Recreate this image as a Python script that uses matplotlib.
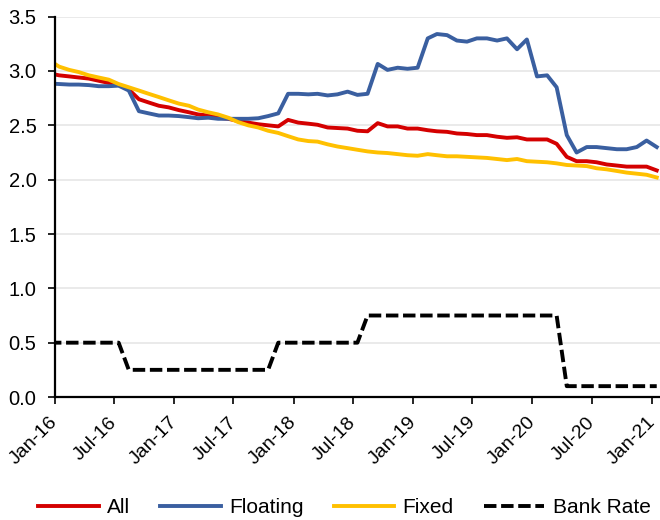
import matplotlib
matplotlib.use("Agg")
import matplotlib.pyplot as plt
import matplotlib.dates as mdates
import matplotlib.transforms as mtransforms
import pandas as pd

plt.rcParams["font.family"] = ["Liberation Sans", "DejaVu Sans"]

# Monthly observations, Dec-15 to Jan-21, plotted mid-month
MONTHS = pd.date_range("2015-12-01", periods=62, freq="MS") + pd.Timedelta(days=14)

ALL_RATE = [
    2.98, 2.96, 2.95, 2.94, 2.93, 2.91, 2.89, 2.87, 2.83, 2.74,
    2.71, 2.68, 2.665, 2.64, 2.62, 2.60, 2.59, 2.57, 2.56, 2.54,
    2.525, 2.51, 2.50, 2.49, 2.55, 2.525, 2.515, 2.505, 2.48, 2.475,
    2.47, 2.45, 2.445, 2.52, 2.49, 2.49, 2.47, 2.47, 2.455, 2.445,
    2.44, 2.425, 2.42, 2.41, 2.41, 2.395, 2.385, 2.39, 2.37, 2.37,
    2.37, 2.33, 2.21, 2.17, 2.17, 2.16, 2.14, 2.13, 2.12, 2.12,
    2.12, 2.085,
]
FLOATING_RATE = [
    2.885, 2.88, 2.875, 2.875, 2.87, 2.86, 2.86, 2.865, 2.82, 2.63,
    2.61, 2.59, 2.59, 2.585, 2.575, 2.565, 2.57, 2.56, 2.56, 2.56,
    2.56, 2.565, 2.585, 2.61, 2.79, 2.79, 2.785, 2.79, 2.775, 2.785,
    2.81, 2.78, 2.79, 3.065, 3.01, 3.03, 3.02, 3.03, 3.30, 3.34,
    3.33, 3.28, 3.27, 3.30, 3.30, 3.28, 3.30, 3.20, 3.29, 2.95,
    2.96, 2.85, 2.41, 2.25, 2.30, 2.30, 2.29, 2.28, 2.28, 2.30,
    2.36, 2.30,
]
FIXED_RATE = [
    3.10, 3.04, 3.01, 2.99, 2.96, 2.94, 2.92, 2.88, 2.85, 2.82,
    2.79, 2.76, 2.73, 2.70, 2.68, 2.645, 2.62, 2.60, 2.57, 2.53,
    2.50, 2.48, 2.45, 2.43, 2.40, 2.37, 2.355, 2.35, 2.325, 2.305,
    2.29, 2.275, 2.26, 2.25, 2.245, 2.235, 2.225, 2.22, 2.235, 2.225,
    2.215, 2.215, 2.21, 2.205, 2.20, 2.19, 2.18, 2.19, 2.17, 2.165,
    2.16, 2.15, 2.135, 2.13, 2.125, 2.105, 2.095, 2.08, 2.065, 2.055,
    2.045, 2.02,
]
BANK_RATE = [
    0.5, 0.5, 0.5, 0.5, 0.5, 0.5, 0.5, 0.5, 0.25, 0.25,
    0.25, 0.25, 0.25, 0.25, 0.25, 0.25, 0.25, 0.25, 0.25, 0.25,
    0.25, 0.25, 0.25, 0.5, 0.5, 0.5, 0.5, 0.5, 0.5, 0.5,
    0.5, 0.5, 0.75, 0.75, 0.75, 0.75, 0.75, 0.75, 0.75, 0.75,
    0.75, 0.75, 0.75, 0.75, 0.75, 0.75, 0.75, 0.75, 0.75, 0.75,
    0.75, 0.75, 0.1, 0.1, 0.1, 0.1, 0.1, 0.1, 0.1, 0.1,
    0.1, 0.1,
]

SERIES = [
    ("All", ALL_RATE, "#D40000", "-"),
    ("Floating", FLOATING_RATE, "#3A5FA0", "-"),
    ("Fixed", FIXED_RATE, "#FFC000", "-"),
    ("Bank Rate", BANK_RATE, "black", (0, (3.2, 1.2))),
]

fig = plt.figure(figsize=(6.6, 5.2), dpi=100, facecolor="white")
ax = fig.add_axes([0.0826, 0.2365, 0.9174, 0.7315])

for label, values, color, style in SERIES:
    ax.plot(MONTHS, values, color=color, linestyle=style, linewidth=2.8, label=label)

ax.set_ylim(0, 3.5)
ax.set_yticks([0.0, 0.5, 1.0, 1.5, 2.0, 2.5, 3.0, 3.5])
ax.yaxis.set_major_formatter(matplotlib.ticker.FormatStrFormatter("%.1f"))
ax.set_xlim(pd.Timestamp("2016-01-01"), pd.Timestamp("2021-01-25"))
ax.xaxis.set_major_locator(mdates.MonthLocator(bymonth=[1, 7]))
ax.xaxis.set_major_formatter(mdates.DateFormatter("%b-%y"))

ax.grid(axis="y", color="#E6E6E6", linewidth=1.2)
ax.set_axisbelow(True)
ax.spines[["top", "right"]].set_visible(False)
ax.spines[["left", "bottom"]].set_linewidth(1.6)
ax.tick_params(axis="y", direction="out", length=5, width=1.2, pad=8, labelsize=14.5)
ax.tick_params(axis="x", direction="out", length=5, width=1.2, pad=7, labelsize=14)

# rotated month labels sit a little to the right of their ticks
shift = mtransforms.ScaledTranslation(6.5 / 100, 0, fig.dpi_scale_trans)
for lbl in ax.get_xticklabels():
    lbl.set_rotation(45)
    lbl.set_ha("right")
    lbl.set_va("top")
    lbl.set_transform(lbl.get_transform() + shift)

fig.legend(
    loc="lower center",
    bbox_to_anchor=(0.522, -0.03),
    ncol=4,
    frameon=False,
    fontsize=15,
    handlelength=2.9,
    handletextpad=0.4,
    columnspacing=1.45,
)

fig.savefig("out.png", dpi=100, facecolor="white")
